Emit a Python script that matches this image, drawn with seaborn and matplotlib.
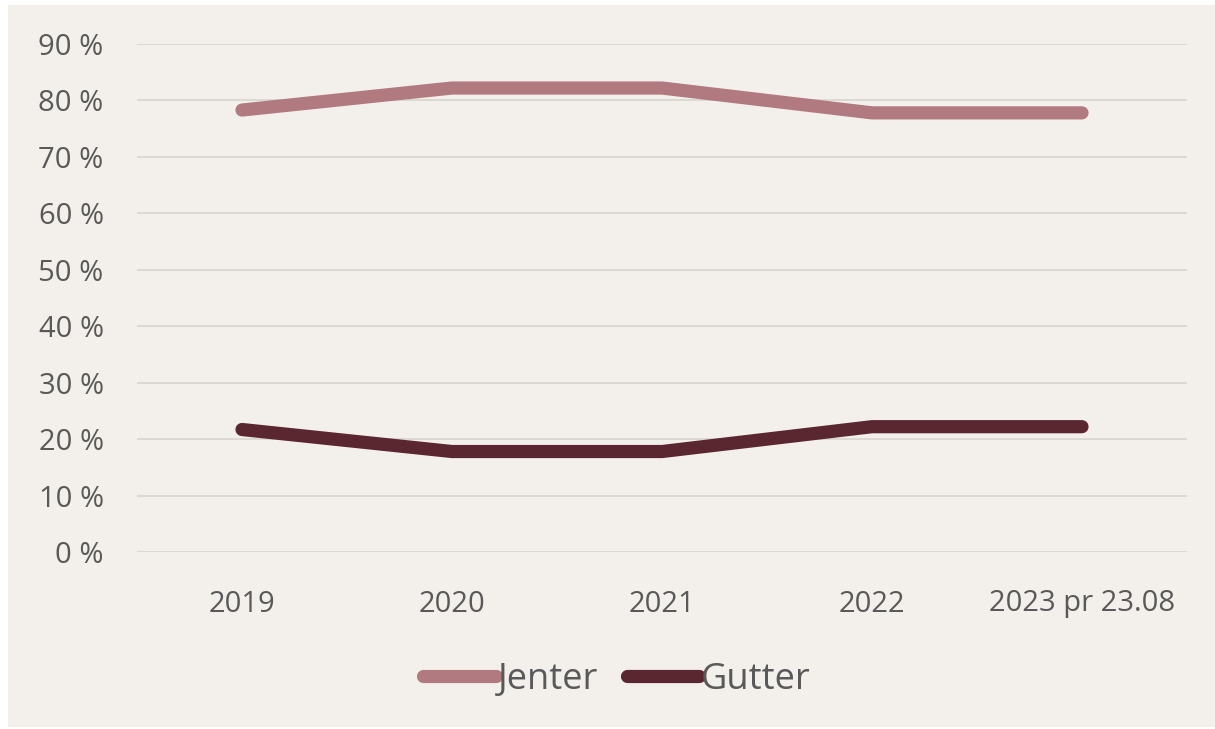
import matplotlib
matplotlib.use("Agg")
import matplotlib.pyplot as plt
from matplotlib.patches import Rectangle
from matplotlib.ticker import FuncFormatter, MultipleLocator
import seaborn as sns
import pandas as pd

years = ["2019", "2020", "2021", "2022", "2023 pr 23.08"]
jenter = [78.3, 82.2, 82.2, 77.8, 77.8]
gutter = [21.7, 17.8, 17.8, 22.2, 22.2]
series_names = ["Jenter", "Gutter"]
colors = ["#b07a80", "#5a2630"]

bg = "#f3f0eb"
grid_c = "#dcd8d2"
text_c = "#595959"

df = pd.DataFrame({
    "År": years * 2,
    "Andel": jenter + gutter,
    "Kjønn": [series_names[0]] * len(years) + [series_names[1]] * len(years),
})
df["pos"] = list(range(len(years))) * 2

sns.set_theme(style="white")
plt.rcParams["font.family"] = ["Open Sans", "DejaVu Sans"]

fig = plt.figure(figsize=(12.15, 7.29), dpi=100, facecolor="white")
fig.patches.append(Rectangle((8 / 1215, 2 / 729), 1 - 8 / 1215, 1 - 7 / 729,
                             transform=fig.transFigure, facecolor=bg,
                             edgecolor="none", zorder=-10))
ax = fig.add_axes([137 / 1215, 1 - 552 / 729, (1187 - 137) / 1215, (552 - 44) / 729])
ax.set_facecolor(bg)

lw = 9.5
sns.lineplot(data=df, x="pos", y="Andel", hue="Kjønn", hue_order=series_names,
             palette=colors, linewidth=lw, solid_capstyle="round",
             solid_joinstyle="round", ax=ax, legend=False, zorder=3)

ax.set_xlim(-0.5, len(years) - 0.5)
ax.set_ylim(0, 90)
ax.yaxis.set_major_locator(MultipleLocator(10))
ax.yaxis.set_major_formatter(FuncFormatter(lambda v, p: f"{v:.0f} %"))
ax.set_xticks(range(len(years)))
ax.set_xticklabels(years)
ax.grid(axis="y", color=grid_c, linewidth=1.4, zorder=1)
ax.grid(axis="x", visible=False)
for s in ax.spines.values():
    s.set_visible(False)
ax.tick_params(axis="both", length=0, labelsize=21, labelcolor=text_c)
ax.tick_params(axis="y", pad=24)
ax.tick_params(axis="x", pad=27)
ax.set_xlabel("")
ax.set_ylabel("")

handles = [plt.Line2D([], [], color=c, linewidth=lw, solid_capstyle="round")
           for c in colors]
fig.legend(handles, series_names, loc="center", bbox_to_anchor=(617 / 1215, 1 - 680 / 729),
           ncol=2, frameon=False, fontsize=26, labelcolor=text_c,
           handlelength=2.0, handletextpad=0.05, columnspacing=0.8)

fig.savefig("out.png", dpi=100, facecolor="white")
